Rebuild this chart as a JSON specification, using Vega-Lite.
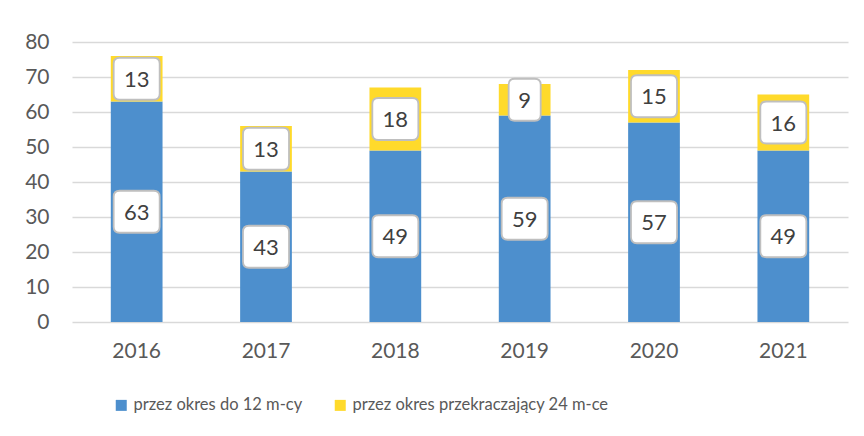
{
  "$schema": "https://vega.github.io/schema/vega-lite/v6.json",
  "width": 776,
  "height": 280,
  "autosize": {"type": "none"},
  "padding": {"left": 72, "top": 42, "right": 16, "bottom": 114},
  "background": "white",
  "config": {"view": {"stroke": null}, "font": "Lato"},
  "data": {
    "values": [
      {"year": "2016", "series": "przez okres do 12 m-cy", "value": 63},
      {"year": "2016", "series": "przez okres przekraczający 24 m-ce", "value": 13},
      {"year": "2017", "series": "przez okres do 12 m-cy", "value": 43},
      {"year": "2017", "series": "przez okres przekraczający 24 m-ce", "value": 13},
      {"year": "2018", "series": "przez okres do 12 m-cy", "value": 49},
      {"year": "2018", "series": "przez okres przekraczający 24 m-ce", "value": 18},
      {"year": "2019", "series": "przez okres do 12 m-cy", "value": 59},
      {"year": "2019", "series": "przez okres przekraczający 24 m-ce", "value": 9},
      {"year": "2020", "series": "przez okres do 12 m-cy", "value": 57},
      {"year": "2020", "series": "przez okres przekraczający 24 m-ce", "value": 15},
      {"year": "2021", "series": "przez okres do 12 m-cy", "value": 49},
      {"year": "2021", "series": "przez okres przekraczający 24 m-ce", "value": 16}
    ]
  },
  "encoding": {
    "x": {
      "field": "year",
      "type": "nominal",
      "scale": {"paddingInner": 0.6, "paddingOuter": 0.3},
      "axis": {
        "title": null,
        "labelAngle": 0,
        "domain": false,
        "ticks": false,
        "labelPadding": 18,
        "labelFontSize": 21,
        "labelColor": "#595959"
      }
    }
  },
  "layer": [
    {
      "mark": {"type": "bar"},
      "encoding": {
        "y": {
          "field": "value",
          "type": "quantitative",
          "stack": "zero",
          "scale": {"domain": [0, 80]},
          "axis": {
            "title": null,
            "values": [0, 10, 20, 30, 40, 50, 60, 70, 80],
            "labelOverlap": false,
            "grid": true,
            "gridColor": "#d9d9d9",
            "gridWidth": 1.3,
            "domain": false,
            "ticks": false,
            "labelPadding": 23,
            "labelFontSize": 21,
            "labelColor": "#595959"
          }
        },
        "color": {
          "field": "series",
          "type": "nominal",
          "scale": {
            "domain": ["przez okres do 12 m-cy", "przez okres przekraczający 24 m-ce"],
            "range": ["#4D8FCD", "#FFDA2B"]
          },
          "legend": {
            "title": null,
            "orient": "none",
            "legendX": 41,
            "legendY": 355,
            "padding": 0,
            "direction": "horizontal",
            "symbolType": "square",
            "symbolSize": 121,
            "symbolStrokeWidth": 0,
            "labelFontSize": 16.5,
            "labelColor": "#595959",
            "labelLimit": 400,
            "labelOffset": 4,
            "columnPadding": 29
          }
        },
        "order": {"field": "series", "sort": "ascending"}
      }
    },
    {
      "transform": [
        {"stack": "value", "groupby": ["year"], "sort": [{"field": "series", "order": "ascending"}], "as": ["v0", "v1"]},
        {"calculate": "(datum.v0 + datum.v1) / 2", "as": "mid"}
      ],
      "mark": {
        "type": "point",
        "filled": true,
        "color": "white",
        "stroke": "#bfbfbf",
        "strokeWidth": 1.8,
        "opacity": 1,
        "size": 2116
      },
      "encoding": {
        "y": {
          "field": "mid",
          "type": "quantitative",
          "axis": {
            "title": null,
            "values": [0, 10, 20, 30, 40, 50, 60, 70, 80],
            "labelOverlap": false,
            "grid": true,
            "gridColor": "#d9d9d9",
            "gridWidth": 1.3,
            "domain": false,
            "ticks": false,
            "labelPadding": 23,
            "labelFontSize": 21,
            "labelColor": "#595959"
          }
        },
        "shape": {
          "condition": {
            "test": "datum.value < 10",
            "value": "M -0.436 -0.913 L 0.436 -0.913 Q 0.696 -0.913 0.696 -0.653 L 0.696 0.653 Q 0.696 0.913 0.436 0.913 L -0.436 0.913 Q -0.696 0.913 -0.696 0.653 L -0.696 -0.653 Q -0.696 -0.913 -0.436 -0.913 Z"
          },
          "value": "M -0.74 -0.913 L 0.74 -0.913 Q 1 -0.913 1 -0.653 L 1 0.653 Q 1 0.913 0.74 0.913 L -0.74 0.913 Q -1 0.913 -1 0.653 L -1 -0.653 Q -1 -0.913 -0.74 -0.913 Z"
        }
      }
    },
    {
      "transform": [
        {"stack": "value", "groupby": ["year"], "sort": [{"field": "series", "order": "ascending"}], "as": ["v0", "v1"]},
        {"calculate": "(datum.v0 + datum.v1) / 2", "as": "mid"}
      ],
      "mark": {
        "type": "text",
        "fontSize": 22,
        "color": "#404040",
        "align": "center",
        "baseline": "middle",
        "dy": 1
      },
      "encoding": {
        "y": {
          "field": "mid",
          "type": "quantitative",
          "axis": {
            "title": null,
            "values": [0, 10, 20, 30, 40, 50, 60, 70, 80],
            "labelOverlap": false,
            "grid": true,
            "gridColor": "#d9d9d9",
            "gridWidth": 1.3,
            "domain": false,
            "ticks": false,
            "labelPadding": 23,
            "labelFontSize": 21,
            "labelColor": "#595959"
          }
        },
        "text": {"field": "value", "type": "quantitative"}
      }
    }
  ]
}
